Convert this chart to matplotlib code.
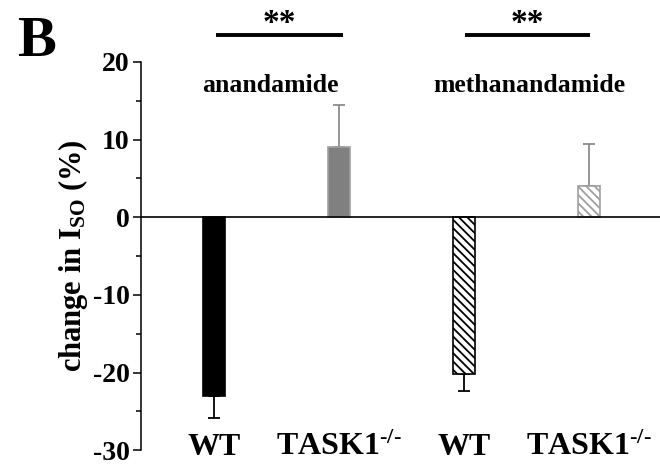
import matplotlib

matplotlib.use("Agg")
import matplotlib.pyplot as plt
from matplotlib.ticker import MultipleLocator

plt.rcParams["font.family"] = ["Liberation Serif", "DejaVu Serif"]
plt.rcParams["font.weight"] = "bold"
plt.rcParams["axes.unicode_minus"] = False
plt.rcParams["mathtext.fontset"] = "custom"
plt.rcParams["mathtext.rm"] = "Liberation Serif:bold"
plt.rcParams["mathtext.bf"] = "Liberation Serif:bold"
plt.rcParams["mathtext.it"] = "Liberation Serif:bold"
plt.rcParams["mathtext.default"] = "rm"
plt.rcParams["hatch.linewidth"] = 1.3

# ------------------------------------------------------------------ данные
groups = ["anandamide", "methanandamide"]
genotypes = ["WT", "TASK1$^{\\text{-/-}}$", "WT", "TASK1$^{\\text{-/-}}$"]
values = [-23.0, 9.0, -20.2, 4.0]
errors = [2.9, 5.5, 2.2, 5.4]
signif = ["**", "**"]

# стили баров
faces = ["black", "#808080", "white", "white"]
edges = ["black", "#a0a0a0", "black", "#a0a0a0"]
hatches = [None, None, "\\\\\\\\", "\\\\\\\\"]
err_colors = ["black", "#8c8c8c", "black", "#8c8c8c"]

fig = plt.figure(figsize=(6.6, 4.66), dpi=100)
ax = fig.add_axes([0.2136, 0.034, 0.7864, 0.833])

xs = [1, 2, 3, 4]
for x, v, e, fc, ec, h, erc in zip(xs, values, errors, faces, edges, hatches, err_colors):
    ax.bar(x, v, width=0.176, color=fc, edgecolor=ec, hatch=h, linewidth=1.2, zorder=2)
    lo, hi = (e, 0) if v < 0 else (0, e)
    ax.errorbar(x, v, yerr=[[lo], [hi]], fmt="none", ecolor=erc,
                elinewidth=1.3, capsize=4.5, capthick=1.3, zorder=1)

ax.axhline(0, color="black", linewidth=1.2, zorder=3)

ax.set_xlim(0.416, 4.568)
ax.set_ylim(-30, 20)
ax.yaxis.set_major_locator(MultipleLocator(10))
ax.yaxis.set_minor_locator(MultipleLocator(5))
ax.tick_params(axis="y", which="major", direction="out", length=6, width=1.1,
               labelsize=20, pad=2)
ax.tick_params(axis="y", which="minor", direction="out", length=3.5, width=1.1)
ax.set_xticks([])
for s in ("top", "right", "bottom"):
    ax.spines[s].set_visible(False)
ax.spines["left"].set_linewidth(1.1)
for lab in ax.get_yticklabels():
    lab.set_fontweight("bold")

ax.set_ylabel("change in I$_{\\text{SO}}$ (%)", fontsize=22, fontweight="bold", labelpad=2)

# подписи генотипов
for x, g in zip(xs, genotypes):
    ax.text(x, -29.6, g, ha="center", va="center", fontsize=23, fontweight="bold",
            clip_on=False)

# названия групп
for x, g in zip([1.45, 3.52], groups):
    ax.text(x, 17.0, g, ha="center", va="center", fontsize=18.5, fontweight="bold")

# значимость
for (x0, x1), s in zip([(1.02, 2.03), (3.01, 4.01)], signif):
    ax.plot([x0, x1], [23.5, 23.5], color="black", linewidth=2.8, clip_on=False,
            solid_capstyle="butt")
    ax.text((x0 + x1) / 2, 24.9, s, ha="center", va="center", fontsize=24,
            fontweight="bold")

fig.text(0.055, 0.91, "B", fontsize=42, fontweight="bold", ha="center", va="center")

fig.savefig("out.png", dpi=100)
